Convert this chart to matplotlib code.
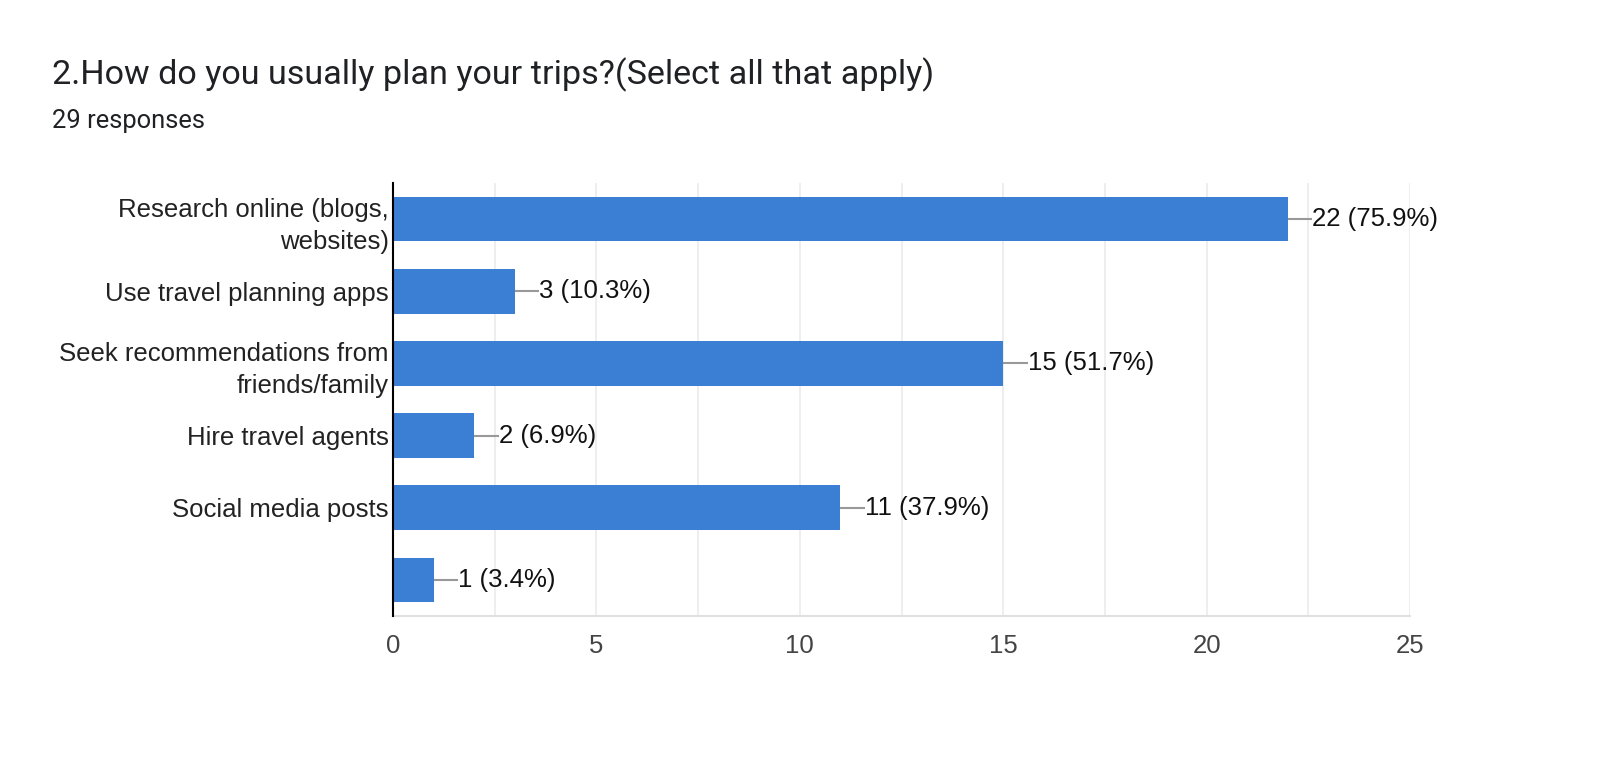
import matplotlib
matplotlib.use("Agg")
import matplotlib.pyplot as plt
from matplotlib.ticker import MultipleLocator

categories = ["Research online (blogs,\nwebsites)", "Use travel planning apps",
              "Seek recommendations from\nfriends/family", "Hire travel agents",
              "Social media posts", ""]
counts = [22, 3, 15, 2, 11, 1]
percents = ["75.9%", "10.3%", "51.7%", "6.9%", "37.9%", "3.4%"]
xticks = [0, 5, 10, 15, 20, 25]

fig = plt.figure(figsize=(16, 7.61), dpi=100)
fig.patch.set_facecolor("white")
ax = fig.add_axes([393/1600, 1-616/761, (1410-393)/1600, (616-183)/761])

y = list(range(len(categories)))
ax.barh(y, counts, height=0.62, color="#3b7fd4", zorder=3)
ax.set_ylim(len(categories) - 0.5, -0.5)
ax.set_xlim(0, 25)
ax.set_xticks(xticks)
ax.xaxis.set_minor_locator(MultipleLocator(2.5))
ax.grid(axis="x", which="both", color="#ebebeb", linewidth=1.2, zorder=0)
ax.set_yticks(y)
ax.set_yticklabels(categories, fontfamily="Liberation Sans", fontsize=18.5, color="#222222",
                   linespacing=1.45, ha="right")
ax.tick_params(axis="y", length=0, pad=3)
ax.tick_params(axis="x", which="both", length=0, pad=13, labelsize=18.5, labelcolor="#444444")
for lbl in ax.get_xticklabels():
    lbl.set_fontfamily("Liberation Sans")
for s in ["top", "right"]:
    ax.spines[s].set_visible(False)
ax.spines["bottom"].set_color("#e0e0e0")
ax.spines["bottom"].set_linewidth(1.5)
ax.spines["left"].set_color("#000000")
ax.spines["left"].set_linewidth(1.5)
ax.spines["left"].set_zorder(5)

for yi, c, p in zip(y, counts, percents):
    ax.plot([c, c + 0.6], [yi, yi], color="#999999", linewidth=1.5, zorder=2,
            solid_capstyle="butt")
    ax.text(c + 0.6, yi, f"{c} ({p})", va="center", ha="left",
            fontfamily="Liberation Sans", fontsize=18.5, color="#111111")

fig.text(52/1600, 1-75/761, "2.How do you usually plan your trips?(Select all that apply)",
         fontfamily="Roboto", fontsize=24.6, color="#202124", va="center", ha="left")
fig.text(52/1600, 1-121/761, "29 responses", fontfamily="Roboto", fontsize=18.4,
         color="#202124", va="center", ha="left")

fig.savefig("out.png", dpi=100, facecolor="white")
